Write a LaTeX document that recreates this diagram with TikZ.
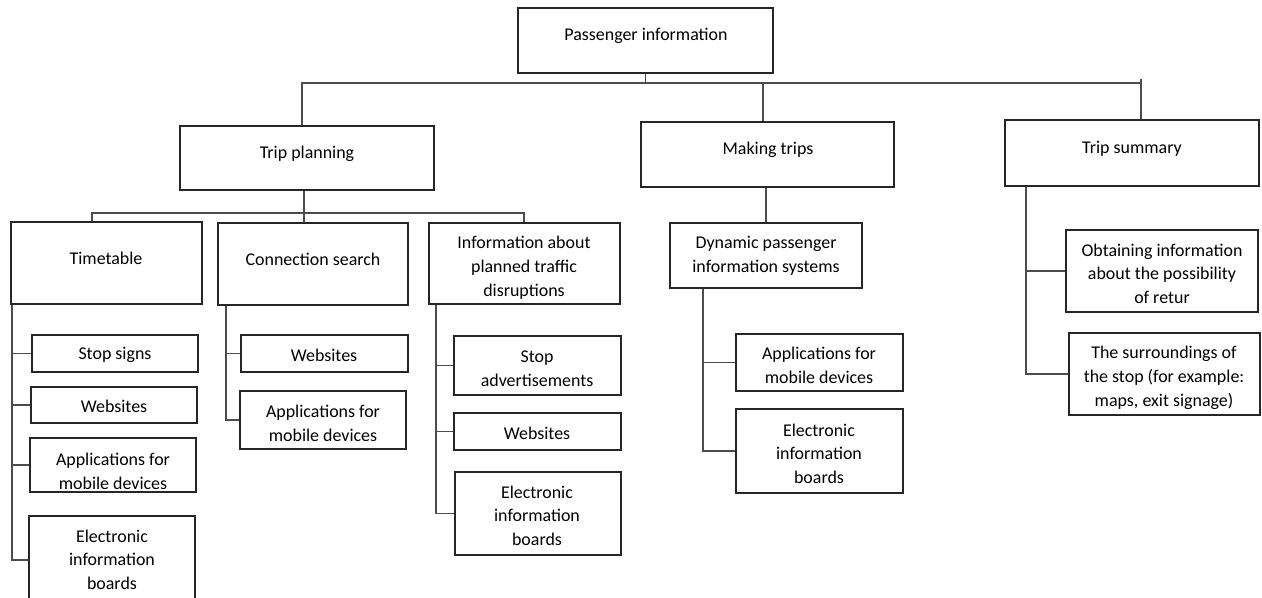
\documentclass[tikz,border=0pt]{standalone}
\usepackage{fontspec}
\setmainfont{Carlito}
\usetikzlibrary{fit}
\begin{document}
\begin{tikzpicture}[x=0.02cm,y=-0.02cm,
  box/.style={draw=black!85, line width=0.7pt, inner sep=0pt, fit={#1}},
  txt/.style={font=\fontsize{10.2}{13.6}\selectfont, align=center, inner sep=0pt, text=black, yshift=-0.035cm},
  conn/.style={draw=black!70, line width=0.6pt}]
\useasboundingbox (0,0) rectangle (1262,598);
\clip (0,0) rectangle (1262,598);
% boxes
\node[box={(518,8) (773,73)}] (pi) {};
\node[box={(180,126) (434,190)}] (tp) {};
\node[box={(641,122) (894,187)}] (mt) {};
\node[box={(1005,120) (1259,186)}] (ts) {};
\node[box={(11,222) (202,304)}] (tt) {};
\node[box={(218,223) (408,305)}] (cs) {};
\node[box={(429,223) (620,304)}] (dis) {};
\node[box={(32,335) (198,372)}] (ss) {};
\node[box={(31,387) (197,423)}] (wa) {};
\node[box={(30,438) (196,492)}] (apa) {};
\node[box={(29,516) (195,604)}] (ela) {};
\node[box={(241,335) (408,372)}] (wb) {};
\node[box={(240,391) (406,449)}] (apb) {};
\node[box={(454,336) (621,395)}] (sa) {};
\node[box={(454,413) (621,450)}] (wc) {};
\node[box={(455,472) (621,555)}] (elc) {};
\node[box={(670,223) (862,288)}] (dy) {};
\node[box={(736,334) (903,391)}] (apd) {};
\node[box={(736,409) (903,493)}] (eld) {};
\node[box={(1066,230) (1258,312)}] (ob) {};
\node[box={(1069,333) (1260,415)}] (su) {};
% texts
\node[txt] (pi-t) at (646,34) {Passenger information};
\node[txt] (tp-t) at (307,152) {Trip planning};
\node[txt] (mt-t) at (768,148) {Making trips};
\node[txt] (ts-t) at (1132,147) {Trip summary};
\node[txt] (tt-t) at (106,257) {Timetable};
\node[txt] (cs-t) at (313,258) {Connection search};
\node[txt] (dis-t) at (524,266) {Information about\\planned traffic\\disruptions};
\node[txt] (ss-t) at (115,353) {Stop signs};
\node[txt] (wa-t) at (114,405) {Websites};
\node[txt] (apa-t) at (113,470) {Applications for\\mobile devices};
\node[txt] (ela-t) at (112,558) {Electronic\\information\\boards};
\node[txt] (wb-t) at (324,354) {Websites};
\node[txt] (apb-t) at (323,422) {Applications for\\mobile devices};
\node[txt] (sa-t) at (537,367) {Stop\\advertisements};
\node[txt] (wc-t) at (537,432) {Websites};
\node[txt] (elc-t) at (537,514) {Electronic\\information\\boards};
\node[txt] (dy-t) at (766,254) {Dynamic passenger\\information systems};
\node[txt] (apd-t) at (819,364) {Applications for\\mobile devices};
\node[txt] (eld-t) at (819,452) {Electronic\\information\\boards};
\node[txt] (ob-t) at (1162,272) {Obtaining information\\about the possibility\\of retur};
\node[txt] (su-t) at (1164,376) {The surroundings of\\the stop (for example:\\maps, exit signage)};
% bus coordinates
\coordinate (b1) at (302,83);
\coordinate (b2) at (763,83);
\coordinate (b3) at (1141,83);
\coordinate (c1) at (92,213);
\coordinate (c2) at (304,213);
\coordinate (c3) at (524,213);
\coordinate (ka) at (12,0);
\coordinate (kb) at (226,0);
\coordinate (kc) at (436,0);
\coordinate (kd) at (703,0);
\coordinate (ke) at (1026,0);
% top level connectors
\draw[conn] (pi.south) -- (pi.south |- b1);
\draw[conn] (tp.north -| b1) -- (b1) -- (b3) -- (ts.north -| b3);
\draw[conn] (b3) -- ++(0,-4);
\draw[conn] (b2) -- (mt.north -| b2);
% trip planning connectors
\draw[conn] (tp.south -| c2) -- (cs.north -| c2);
\draw[conn] (tt.north -| c1) -- (c1) -- (c3) -- (dis.north -| c3);
\draw[conn] (mt.south -| dy.north) -- (dy.north);
% lists
\draw[conn] (tt.south -| ka) |- (ela.west);
\foreach \c in {ss,wa,apa} \draw[conn] (ka |- \c.west) -- (\c.west);
\draw[conn] (cs.south -| kb) |- (apb.west);
\draw[conn] (kb |- wb.west) -- (wb.west);
\draw[conn] (dis.south -| kc) |- (elc.west);
\foreach \c in {sa,wc} \draw[conn] (kc |- \c.west) -- (\c.west);
\draw[conn] (dy.south -| kd) |- (eld.west);
\draw[conn] (kd |- apd.west) -- (apd.west);
\draw[conn] (ts.south -| ke) |- (su.west);
\draw[conn] (ke |- ob.west) -- (ob.west);
\end{tikzpicture}
\end{document}
